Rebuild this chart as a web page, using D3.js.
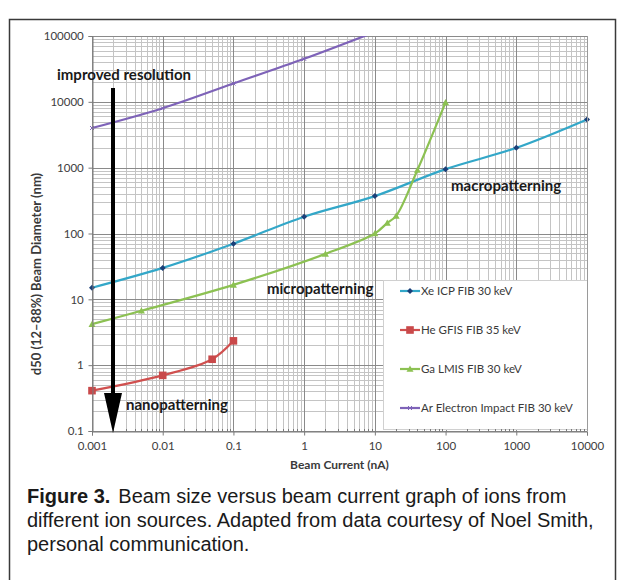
<!DOCTYPE html>
<html>
<head>
<meta charset="utf-8">
<script src="https://cdn.jsdelivr.net/npm/d3@7"></script>
<style>
  html, body { margin: 0; padding: 0; background: #fff; }
  svg { display: block; }
</style>
</head>
<body>
<svg id="chart" width="624" height="580"></svg>
<script>
// ---- data ----
const xTickValues = [0.001, 0.01, 0.1, 1, 10, 100, 1000, 10000];
const xTickLabels = ["0.001", "0.01", "0.1", "1", "10", "100", "1000", "10000"];
const yTickValues = [0.1, 1, 10, 100, 1000, 10000, 100000];
const yTickLabels = ["0.1", "1", "10", "100", "1000", "10000", "100000"];

const seriesNames = ["Xe ICP FIB 30 keV", "He GFIS FIB 35 keV", "Ga LMIS FIB 30 keV", "Ar Electron Impact FIB 30 keV"];

const xeCurrent = [0.001, 0.01, 0.1, 1, 10, 100, 1000, 10000];
const xeDiameter = [15, 30, 70, 180, 370, 950, 2000, 5400];

const heCurrent = [0.001, 0.01, 0.05, 0.1];
const heDiameter = [0.41, 0.70, 1.23, 2.34];

const gaCurrent = [0.001, 0.005, 0.1, 2, 10, 15, 20, 40, 100];
const gaDiameter = [4.2, 6.7, 16.6, 49, 100, 145, 185, 920, 9800];

const arCurrent = [0.001, 0.01, 0.1, 1, 10];
const arDiameter = [4000, 8000, 19000, 45000, 115000];

const annotationTexts = ["improved resolution", "macropatterning", "micropatterning", "nanopatterning"];

// ---- layout ----
const svg = d3.select("#chart");
const plot = { left: 92, right: 587, top: 36, bottom: 431 };
const chartFont = "Lato, 'Open Sans', sans-serif";
const capFont = "'Liberation Sans', Arial, sans-serif";

const x = d3.scaleLog().domain([0.001, 10000]).range([plot.left, plot.right]);
const y = d3.scaleLog().domain([0.1, 100000]).range([plot.bottom, plot.top]);

// outer frame
svg.append("rect")
  .attr("x", 9.5).attr("y", 19.5).attr("width", 606).attr("height", 600)
  .attr("fill", "none").attr("stroke", "#3a3a3a").attr("stroke-width", 1.5);

// grid
const minorX = [], minorY = [];
for (let e = -3; e < 4; e++) for (let k = 2; k <= 9; k++) minorX.push(k * Math.pow(10, e));
for (let e = -1; e < 5; e++) for (let k = 2; k <= 9; k++) minorY.push(k * Math.pow(10, e));

const grid = svg.append("g");
grid.selectAll(".mx").data(minorX).join("line")
  .attr("x1", d => Math.round(x(d)) + 0.5).attr("x2", d => Math.round(x(d)) + 0.5)
  .attr("y1", plot.top).attr("y2", plot.bottom)
  .attr("stroke", "#c4c4c4").attr("stroke-width", 1);
grid.selectAll(".my").data(minorY).join("line")
  .attr("y1", d => Math.round(y(d)) + 0.5).attr("y2", d => Math.round(y(d)) + 0.5)
  .attr("x1", plot.left).attr("x2", plot.right)
  .attr("stroke", "#c4c4c4").attr("stroke-width", 1);
grid.selectAll(".Mx").data(xTickValues).join("line")
  .attr("x1", d => Math.round(x(d)) + 0.5).attr("x2", d => Math.round(x(d)) + 0.5)
  .attr("y1", plot.top).attr("y2", plot.bottom)
  .attr("stroke", "#8a8a8a").attr("stroke-width", 1);
grid.selectAll(".My").data(yTickValues).join("line")
  .attr("y1", d => Math.round(y(d)) + 0.5).attr("y2", d => Math.round(y(d)) + 0.5)
  .attr("x1", plot.left).attr("x2", plot.right)
  .attr("stroke", "#8a8a8a").attr("stroke-width", 1);

// clip
svg.append("clipPath").attr("id", "clip").append("rect")
  .attr("x", plot.left - 6).attr("y", plot.top).attr("width", plot.right - plot.left + 12).attr("height", plot.bottom - plot.top);

const series = [
  { name: seriesNames[0], xs: xeCurrent, ys: xeDiameter, line: "#33a7c8", marker: "diamond", mcolor: "#1b3f78" },
  { name: seriesNames[1], xs: heCurrent, ys: heDiameter, line: "#d0504f", marker: "square", mcolor: "#c9494a" },
  { name: seriesNames[2], xs: gaCurrent, ys: gaDiameter, line: "#8cc152", marker: "triangle", mcolor: "#8cc152" },
  { name: seriesNames[3], xs: arCurrent, ys: arDiameter, line: "#7e63b8", marker: "x", mcolor: "#7e63b8" },
];

const lineGen = d3.line().x(d => x(d[0])).y(d => y(d[1])).curve(d3.curveCatmullRom.alpha(0.5));

function drawMarker(g, type, color, cx, cy, s) {
  if (type === "diamond") {
    g.append("path").attr("d", `M${cx},${cy - s}L${cx + s},${cy}L${cx},${cy + s}L${cx - s},${cy}Z`).attr("fill", color);
  } else if (type === "square") {
    g.append("rect").attr("x", cx - s).attr("y", cy - s).attr("width", 2 * s).attr("height", 2 * s).attr("fill", color);
  } else if (type === "triangle") {
    g.append("path").attr("d", `M${cx},${cy - s}L${cx + s},${cy + s * 0.8}L${cx - s},${cy + s * 0.8}Z`).attr("fill", color);
  } else {
    g.append("path").attr("d", `M${cx - s},${cy - s}L${cx + s},${cy + s}M${cx - s},${cy + s}L${cx + s},${cy - s}`)
      .attr("stroke", color).attr("stroke-width", 1).attr("fill", "none");
  }
}
const markerSize = { diamond: 3, square: 3.8, triangle: 3.5, x: 2 };

const dataG = svg.append("g").attr("clip-path", "url(#clip)");
series.forEach(s => {
  const pts = s.xs.map((v, i) => [v, s.ys[i]]);
  dataG.append("path").datum(pts).attr("d", lineGen)
    .attr("fill", "none").attr("stroke", s.line).attr("stroke-width", 2.2);
  const mg = dataG.append("g");
  pts.forEach(p => {
    if (y(p[1]) >= plot.top) drawMarker(mg, s.marker, s.mcolor, x(p[0]), y(p[1]), markerSize[s.marker]);
  });
});

// legend box
const leg = { x: 383, y: 280, w: 204, h: 149 };
svg.append("rect").attr("x", leg.x + 0.5).attr("y", leg.y + 0.5).attr("width", leg.w).attr("height", leg.h)
  .attr("fill", "#fff").attr("stroke", "#d0d0d0").attr("stroke-width", 1);
const legRows = [291, 330, 369, 408];
series.forEach((s, i) => {
  const ly = legRows[i];
  svg.append("line").attr("x1", 400).attr("x2", 420).attr("y1", ly).attr("y2", ly)
    .attr("stroke", s.line).attr("stroke-width", 2.2);
  drawMarker(svg.append("g"), s.marker, s.mcolor, 410, ly, markerSize[s.marker]);
  svg.append("text").attr("x", 421).attr("y", ly + 4)
    .attr("font-family", chartFont).attr("font-size", 11.5).attr("fill", "#3a3a3a").text(s.name);
});

// axes
const xAxis = d3.axisBottom(x).tickValues(xTickValues).tickSize(4)
  .tickFormat((d, i) => xTickLabels[i]);
const gx = svg.append("g").attr("transform", `translate(0,${plot.bottom + 0.5})`).call(xAxis);
gx.select(".domain").attr("stroke", "#7a7a7a");
gx.selectAll(".tick line").attr("stroke", "#7a7a7a");
gx.selectAll(".tick text").attr("font-family", chartFont).attr("font-size", 11.5).attr("fill", "#404040").attr("dy", "1.0em");
svg.append("g").selectAll("line").data(minorX).join("line")
  .attr("x1", d => Math.round(x(d)) + 0.5).attr("x2", d => Math.round(x(d)) + 0.5)
  .attr("y1", plot.bottom - 2).attr("y2", plot.bottom + 0.5)
  .attr("stroke", "#7a7a7a");

const yAxis = d3.axisLeft(y).tickValues(yTickValues).tickSize(4)
  .tickFormat((d, i) => yTickLabels[i]);
const gy = svg.append("g").attr("transform", `translate(${plot.left + 0.5},0)`).call(yAxis);
gy.select(".domain").attr("stroke", "#7a7a7a");
gy.selectAll(".tick line").attr("stroke", "#7a7a7a");
gy.selectAll(".tick text").attr("font-family", chartFont).attr("font-size", 11.5).attr("fill", "#404040").attr("dx", "-0.15em");

svg.append("line").attr("x1", plot.right + 0.5).attr("x2", plot.right + 0.5).attr("y1", plot.top).attr("y2", plot.bottom)
  .attr("stroke", "#9a9a9a");

// axis titles
svg.append("text").attr("x", (plot.left + plot.right) / 2).attr("y", 469)
  .attr("text-anchor", "middle").attr("font-family", chartFont).attr("font-weight", "bold")
  .attr("font-size", 12).attr("fill", "#3a3a3a").text("Beam Current (nA)");
svg.append("text").attr("transform", "translate(41,274) rotate(-90)")
  .attr("text-anchor", "middle").attr("font-family", chartFont).attr("font-weight", "bold")
  .attr("font-size", 13).attr("fill", "#3a3a3a").text("d50 (12–88%) Beam Diameter (nm)");

// annotation arrow
const arrowX = 113;
svg.append("line").attr("x1", arrowX).attr("x2", arrowX).attr("y1", 88).attr("y2", 400)
  .attr("stroke", "#000").attr("stroke-width", 4);
svg.append("path").attr("d", `M${arrowX - 9},393 L${arrowX + 9},393 L${arrowX},433 Z`).attr("fill", "#000");

// annotation texts
const annPos = [[57, 80], [451, 191], [267, 294], [126, 410]];
annotationTexts.forEach((t, i) => {
  svg.append("text").attr("x", annPos[i][0]).attr("y", annPos[i][1])
    .attr("font-family", chartFont).attr("font-weight", "bold").attr("font-size", 15)
    .attr("fill", "#1a1a1a").text(t);
});

// caption
const cap = svg.append("text").attr("font-family", capFont).attr("font-size", 20).attr("fill", "#1a1a1a");
cap.append("tspan").attr("x", 27).attr("y", 503).attr("font-weight", "bold").text("Figure 3.");
cap.append("tspan").attr("dx", 8).text("Beam size versus beam current graph of ions from");
svg.append("text").attr("x", 27).attr("y", 527).attr("font-family", capFont).attr("font-size", 20).attr("fill", "#1a1a1a")
  .text("different ion sources. Adapted from data courtesy of Noel Smith,");
svg.append("text").attr("x", 27).attr("y", 551).attr("font-family", capFont).attr("font-size", 20).attr("fill", "#1a1a1a")
  .text("personal communication.");
</script>
</body>
</html>
